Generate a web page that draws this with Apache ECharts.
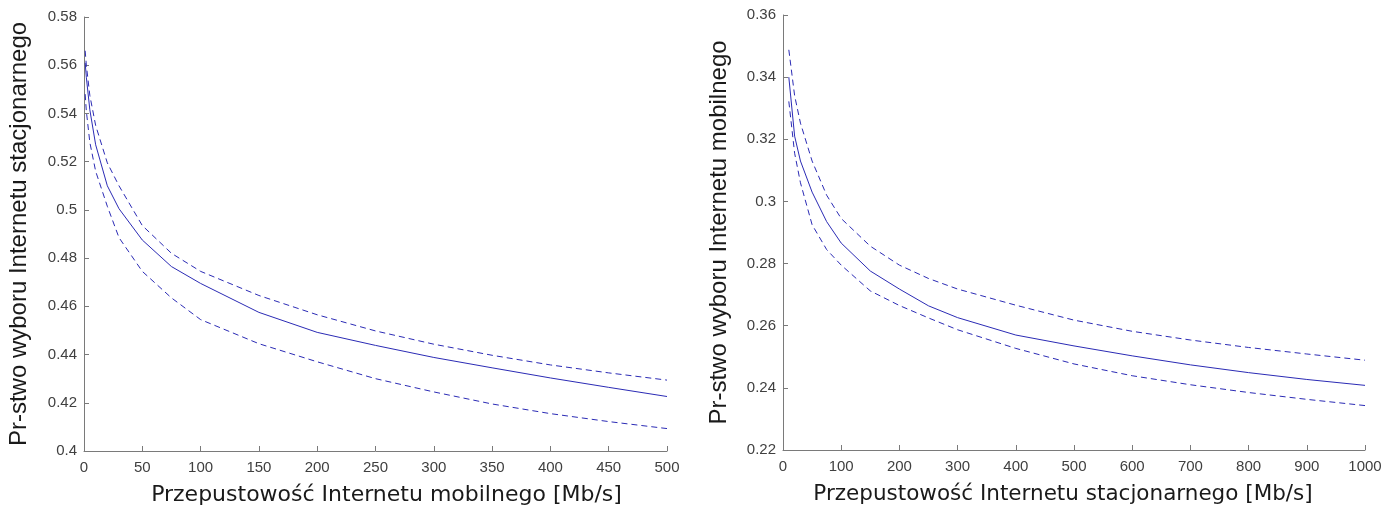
<!DOCTYPE html>
<html>
<head>
<meta charset="utf-8">
<script src="https://cdn.jsdelivr.net/npm/echarts@6/dist/echarts.min.js"></script>
<style>
html,body{margin:0;padding:0;background:#fff;}
#c{width:1383px;height:506px;}
</style>
</head>
<body>
<div id="c"></div>
<script>
// Left panel: mobile bandwidth [Mb/s] -> probability of choosing fixed internet
const leftX = [1, 2, 5, 10, 20, 30, 50, 75, 100, 150, 200, 250, 300, 350, 400, 450, 500];
const leftMid = [0.561, 0.555, 0.5415, 0.527, 0.510, 0.5005, 0.4875, 0.4765, 0.4695, 0.4575, 0.4492, 0.4438, 0.4388, 0.4345, 0.4303, 0.4264, 0.4226];
const leftUpper = [0.566, 0.560, 0.5475, 0.535, 0.5195, 0.510, 0.4935, 0.482, 0.4745, 0.4645, 0.4565, 0.4498, 0.4443, 0.4397, 0.4357, 0.4324, 0.4294];
const leftLower = [0.548, 0.541, 0.528, 0.516, 0.5015, 0.4885, 0.4745, 0.4635, 0.4545, 0.4445, 0.4370, 0.4300, 0.4245, 0.4195, 0.4155, 0.4122, 0.4093];

// Right panel: fixed bandwidth [Mb/s] -> probability of choosing mobile internet
const rightX = [10, 20, 30, 50, 75, 100, 150, 200, 250, 300, 400, 500, 600, 700, 800, 900, 1000];
const rightMid = [0.340, 0.321, 0.313, 0.303, 0.2935, 0.2866, 0.2776, 0.2718, 0.2664, 0.2626, 0.2570, 0.2535, 0.2503, 0.2474, 0.2449, 0.2427, 0.2408];
const rightUpper = [0.3488, 0.334, 0.3252, 0.313, 0.302, 0.2945, 0.2856, 0.2795, 0.2752, 0.2718, 0.2666, 0.2618, 0.2582, 0.2554, 0.2530, 0.2509, 0.2489];
const rightLower = [0.3322, 0.3155, 0.306, 0.2925, 0.2845, 0.2795, 0.2712, 0.2665, 0.2625, 0.2587, 0.2527, 0.2477, 0.2439, 0.2410, 0.2385, 0.2363, 0.2343];

const leftXTitle = 'Przepustowość Internetu mobilnego [Mb/s]';
const leftYTitle = 'Pr-stwo wyboru Internetu stacjonarnego';
const rightXTitle = 'Przepustowość Internetu stacjonarnego [Mb/s]';
const rightYTitle = 'Pr-stwo wyboru Internetu mobilnego';

const zip = (xs, ys) => xs.map((x, i) => [x, ys[i]]);
const lineColor = '#2b2bb5';
const axisColor = '#7a7a7a';
const labelColor = '#404040';

function xAxisCfg(idx, max, interval, name, fontSize, padding) {
  return {
    type: 'value', gridIndex: idx, min: 0, max: max, interval: interval,
    name: name, nameLocation: 'middle', nameGap: 33,
    nameTextStyle: {fontFamily: 'DejaVu Sans', fontSize: fontSize, color: '#1a1a1a', padding: padding},
    axisLine: {show: true, lineStyle: {color: axisColor, width: 1}},
    axisTick: {show: true, inside: true, length: 5, lineStyle: {color: axisColor}},
    axisLabel: {fontFamily: 'Liberation Sans', fontSize: 15, color: labelColor, margin: 9,
      formatter: v => String(v)},
    splitLine: {show: false}
  };
}
function yAxisCfg(idx, min, max, name, gap) {
  return {
    type: 'value', gridIndex: idx, min: min, max: max, interval: 0.02,
    name: name, nameLocation: 'middle', nameGap: gap,
    nameTextStyle: {fontFamily: 'Liberation Sans', fontSize: 24, color: '#1a1a1a'},
    axisLine: {show: true, lineStyle: {color: axisColor, width: 1}},
    axisTick: {show: true, inside: true, length: 5, lineStyle: {color: axisColor}},
    axisLabel: {fontFamily: 'Liberation Sans', fontSize: 15, color: labelColor, margin: 7,
      formatter: v => String(+v.toFixed(2))},
    splitLine: {show: false}
  };
}
function lineSeries(xi, data, dashed) {
  return {
    type: 'line', xAxisIndex: xi, yAxisIndex: xi, data: data, showSymbol: false,
    smooth: false, animation: false,
    lineStyle: {color: lineColor, width: 1, type: dashed ? [6, 4] : 'solid'}
  };
}

const chart = echarts.init(document.getElementById('c'), null, {renderer: 'canvas'});
chart.setOption({
  backgroundColor: '#ffffff',
  animation: false,
  grid: [
    {left: 84, top: 17, width: 583, height: 434, containLabel: false, outerBoundsMode: 'none'},
    {left: 783, top: 15, width: 582, height: 435, containLabel: false, outerBoundsMode: 'none'}
  ],
  xAxis: [
    xAxisCfg(0, 500, 50, leftXTitle, 22, [0, 0, 0, 22]),
    xAxisCfg(1, 1000, 100, rightXTitle, 21.5, [0, 22, 0, 0])
  ],
  yAxis: [
    yAxisCfg(0, 0.4, 0.58, leftYTitle, 53),
    yAxisCfg(1, 0.22, 0.36, rightYTitle, 52)
  ],
  series: [
    lineSeries(0, zip(leftX, leftMid), false),
    lineSeries(0, zip(leftX, leftUpper), true),
    lineSeries(0, zip(leftX, leftLower), true),
    lineSeries(1, zip(rightX, rightMid), false),
    lineSeries(1, zip(rightX, rightUpper), true),
    lineSeries(1, zip(rightX, rightLower), true)
  ]
});
</script>
</body>
</html>
